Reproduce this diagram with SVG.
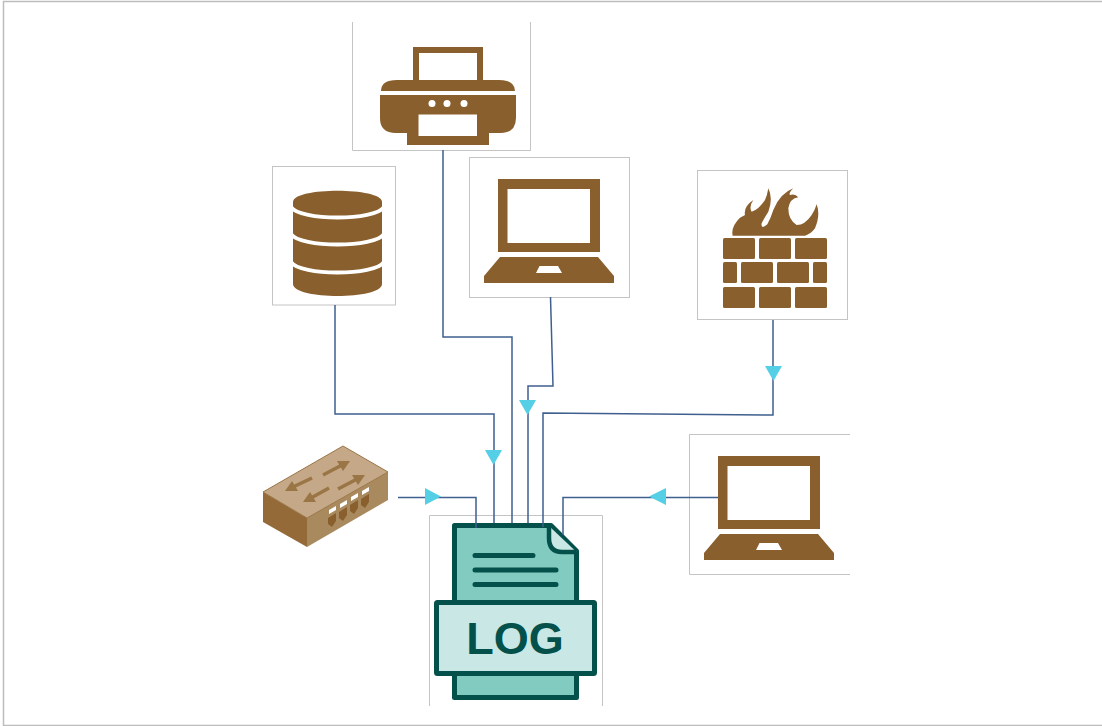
<svg xmlns="http://www.w3.org/2000/svg" width="1102" height="726" viewBox="0 0 1102 726">
<style>
.box{fill:#fff;stroke:#c4c4c4;stroke-width:1}
.ic{fill:#8a5f2e}
.cut{fill:#fff}
.c{fill:none;stroke:#3f5f8e;stroke-width:1.500}
.a{fill:#55cfe6}
.ln{stroke:#04504a;stroke-width:5;stroke-linecap:round;fill:none}
.band{fill:none;stroke:#fff;stroke-width:4}
.soft{filter:url(#soft)}
.arr{fill:none;stroke:#9a7444;stroke-width:3.500}
.head{fill:#9a7444}
</style>
<defs>
<filter id="soft" x="-5%" y="-5%" width="110%" height="110%"><feGaussianBlur stdDeviation="0.6"/></filter>
<g id="laptop">
<path class="ic" fill-rule="evenodd" d="M498 179H600V252H498ZM507.500 189V243H590V189Z"/>
<path class="ic" fill-rule="evenodd" d="M500 257H598L614 276V283H484V276ZM539.500 266L536 273H562L558 266Z"/>
</g>
</defs>
<rect width="1102" height="726" fill="#fff"/>
<path d="M1102 1.500H3.500V725.500H1102" fill="none" stroke="#bdbdbd" stroke-width="1.500"/>

<g id="printer">
<path class="box" d="M352.500 22V150.500H530.500V22"/>
<g class="soft">
<path class="ic" fill-rule="evenodd" d="M413 47H483V80H477V53H419V80H413Z"/>
<path class="ic" d="M381 91Q381 80 397 80H499Q515 80 515 91Z"/>
<path class="ic" fill-rule="evenodd" d="M380 95H516V118Q516 133 500 133H489V145H407V133H396Q380 133 380 118ZM418.500 114.500V136H477V114.500Z"/>
<circle class="cut" cx="432" cy="103.500" r="3.500"/><circle class="cut" cx="447" cy="103.500" r="3.500"/><circle class="cut" cx="464" cy="103.500" r="3.500"/>
</g>
</g>

<g id="database">
<rect class="box" x="272.500" y="166.500" width="123" height="138.500"/>
<g class="soft">
<path class="ic" d="M293 202C293 187 382 187 382 202V284C382 300 293 300 293 284Z"/>
<path class="band" d="M291 207C300 221 375 221 384 207"/>
<path class="band" d="M291 234C300 248 375 248 384 234"/>
<path class="band" d="M291 262C300 276 375 276 384 262"/>
</g>
</g>

<g id="laptop-top">
<rect class="box" x="469.500" y="157.500" width="160" height="140"/>
<use href="#laptop" class="soft"/>
</g>

<g id="firewall">
<rect class="box" x="697.500" y="170.500" width="150" height="149"/>
<g class="soft">
<path class="ic" transform="translate(690 165) scale(.3333)" d="M128 212Q122 185 150 158L165 150Q160 125 190 105Q176 125 185 140Q205 135 225 105Q232 90 235 70Q250 100 235 140Q222 160 215 175Q212 195 232 178Q242 160 250 135Q270 85 310 70Q295 85 300 90Q315 85 325 97Q300 100 295 130Q295 165 320 180Q345 180 365 150Q375 135 380 118Q392 150 375 190Q362 208 345 212Z"/>
<rect class="ic" x="723" y="238" width="32" height="21" rx="1.500"/><rect class="ic" x="759" y="238" width="32" height="21" rx="1.500"/><rect class="ic" x="795" y="238" width="32" height="21" rx="1.500"/>
<rect class="ic" x="723" y="262" width="14" height="21" rx="1.500"/><rect class="ic" x="741" y="262" width="32" height="21" rx="1.500"/><rect class="ic" x="777" y="262" width="32" height="21" rx="1.500"/><rect class="ic" x="813" y="262" width="14" height="21" rx="1.500"/>
<rect class="ic" x="723" y="287" width="32" height="21" rx="1.500"/><rect class="ic" x="759" y="287" width="32" height="21" rx="1.500"/><rect class="ic" x="795" y="287" width="32" height="21" rx="1.500"/>
</g>
</g>

<g id="switch">
<g class="soft">
<path fill="#946a38" d="M263 492L307 518V547L263 522Z"/>
<path fill="#a98a5f" d="M307 518L388 472V500L307 547Z"/>
<path fill="#c4a887" stroke="#9a7444" stroke-width="1" d="M263 492L343 446L388 472L307 518Z"/>
<path class="arr" d="M323 475L342 465"/><polygon class="head" points="350,461 337,461 343,471"/>
<path class="arr" d="M338 489L357 479"/><polygon class="head" points="365,475 352,475 358,485"/>
<path class="arr" d="M312 478L293 487"/><polygon class="head" points="285,491 292,481 298,491"/>
<path class="arr" d="M329 488L311 498"/><polygon class="head" points="303,502 310,492 316,502"/>
<g fill="#fff">
<path d="M329 510L336 506V510L329 514Z"/><path d="M340 504L347 500V504L340 508Z"/><path d="M351 497L358 493V497L351 501Z"/><path d="M362 491L369 487V491L362 495Z"/>
</g>
<g fill="#8a5f2e">
<path d="M328 518L336 513V521L332 527L328 524Z"/><path d="M339 512L347 507V515L343 521L339 518Z"/><path d="M350 505L358 500V508L354 514L350 511Z"/><path d="M361 499L369 494V502L365 508L361 505Z"/>
</g>
</g>
</g>

<g id="laptop-right">
<path class="box" d="M850 434.500H689.500V574.500H850"/>
<use href="#laptop" class="soft" transform="translate(220 277)"/>
</g>

<g id="log">
<path class="box" d="M429.500 706V515.500H602.500V706"/>
<path d="M454.500 525.500H551L576.500 551V697.500H454.500Z" fill="#82cbc0" stroke="#04504a" stroke-width="5" stroke-linejoin="round"/>
<path d="M549 526V538Q549 552 562 552H576.500" fill="#c9e8e5" stroke="#04504a" stroke-width="4.500" stroke-linejoin="round"/>
<path class="ln" d="M475 555.500H533M475 570H556M475 584.500H556"/>
<rect x="436.500" y="602.500" width="158" height="71" rx="1" fill="#c9e8e5" stroke="#04504a" stroke-width="5"/>
<text x="515" y="654" text-anchor="middle" font-family="Liberation Sans, Arial, sans-serif" font-weight="700" font-size="45" fill="#04504a">LOG</text>
</g>

<g id="connectors">
<path class="c" d="M335 305V414H494V523"/>
<path class="c" d="M443 150V337H512V523"/>
<path class="c" d="M550.500 297L553 386H528V523"/>
<path class="c" d="M773 320V415L543 413V527"/>
<path class="c" d="M398 497.500H476V528"/>
<path class="c" d="M718 497.500H563V535"/>
<polygon class="a" points="485,450 502,450 493.500,465"/>
<polygon class="a" points="519,400 536,400 527.500,415"/>
<polygon class="a" points="765,366 782,366 773.500,381"/>
<polygon class="a" points="425,488 441,496.500 425,505"/>
<polygon class="a" points="666,488 649,496.500 666,505"/>
</g>
</svg>
